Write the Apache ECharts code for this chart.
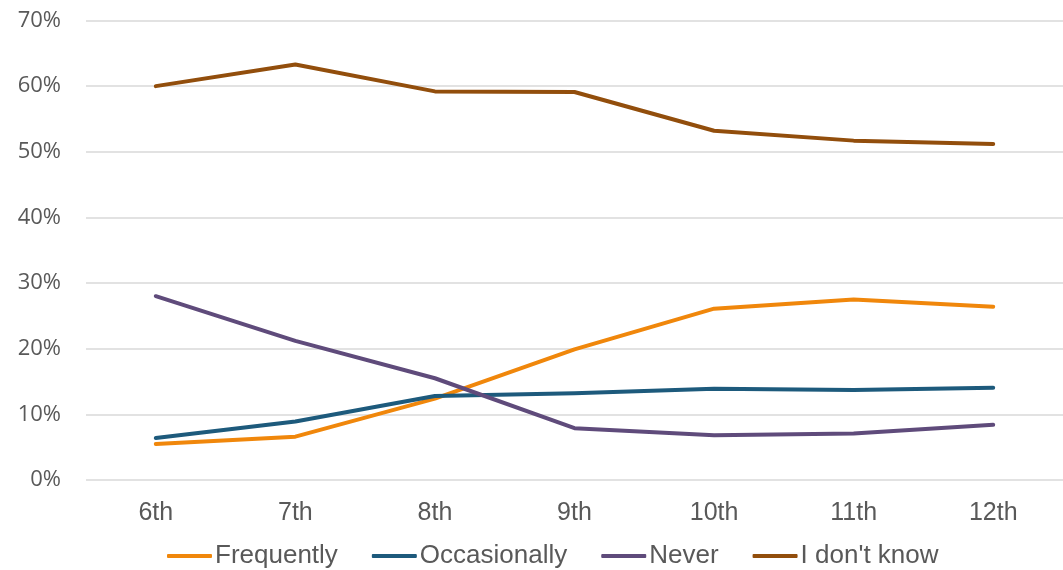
<!DOCTYPE html>
<html>
<head>
<meta charset="utf-8">
<script src="https://cdn.jsdelivr.net/npm/echarts@6/dist/echarts.min.js"></script>
<style>
html,body{margin:0;padding:0;background:#fff;}
#chart{width:1063px;height:570px;}
</style>
</head>
<body>
<div id="chart"></div>
<script>
var grades = ['6th','7th','8th','9th','10th','11th','12th'];
var frequently = [5.5, 6.6, 12.4, 19.9, 26.1, 27.5, 26.4];
var occasionally = [6.4, 8.9, 12.8, 13.2, 13.9, 13.7, 14.05];
var never = [28.0, 21.2, 15.5, 7.9, 6.8, 7.1, 8.4];
var dontKnow = [60.0, 63.3, 59.2, 59.1, 53.2, 51.7, 51.2];
var seriesNames = ['Frequently','Occasionally','Never',"I don't know"];
var colors = ['#F0870B','#1D5A7C','#5F4B7B','#924E0C'];

var myChart = echarts.init(document.getElementById('chart'));

function mkLine(i,data){
	return {
		name: seriesNames[i],
		type: 'line',
		data: data,
		symbol: 'none',
		smooth: false,
		lineStyle: {width: 4, color: colors[i], cap: 'round', join: 'round'},
		itemStyle: {color: colors[i]}
	};
}

var option = {
	animation: false,
	grid: {left: 86, right: 0, top: 20.5, bottom: 90, containLabel: false},
	legend: {
		bottom: -4,
		left: 162,
		icon: 'roundRect',
		itemWidth: 45,
		itemHeight: 4,
		itemGap: 34,
		textStyle: {
			fontFamily: '"Liberation Sans", Arial, sans-serif',
			fontSize: 26,
			color: '#595959',
			padding: [0,0,0,-2]
		},
		data: seriesNames
	},
	xAxis: {
		type: 'category',
		data: grades,
		boundaryGap: true,
		axisLine: {show: false},
		axisTick: {show: false},
		axisLabel: {
			margin: 21,
			fontFamily: '"Liberation Sans", Arial, sans-serif',
			fontSize: 25,
			color: '#595959'
		}
	},
	yAxis: {
		type: 'value',
		min: 0,
		max: 70,
		interval: 10,
		axisLine: {show: false},
		axisTick: {show: false},
		axisLabel: {
			margin: 25,
			formatter: '{value}%',
			fontFamily: '"Open Sans", sans-serif',
			fontSize: 22,
			color: '#595959'
		},
		splitLine: {lineStyle: {color: '#d9d9d9', width: 1.5}}
	},
	series: [
		mkLine(0, frequently),
		mkLine(1, occasionally),
		mkLine(2, never),
		mkLine(3, dontKnow)
	]
};

myChart.setOption(option, true);
</script>
</body>
</html>
